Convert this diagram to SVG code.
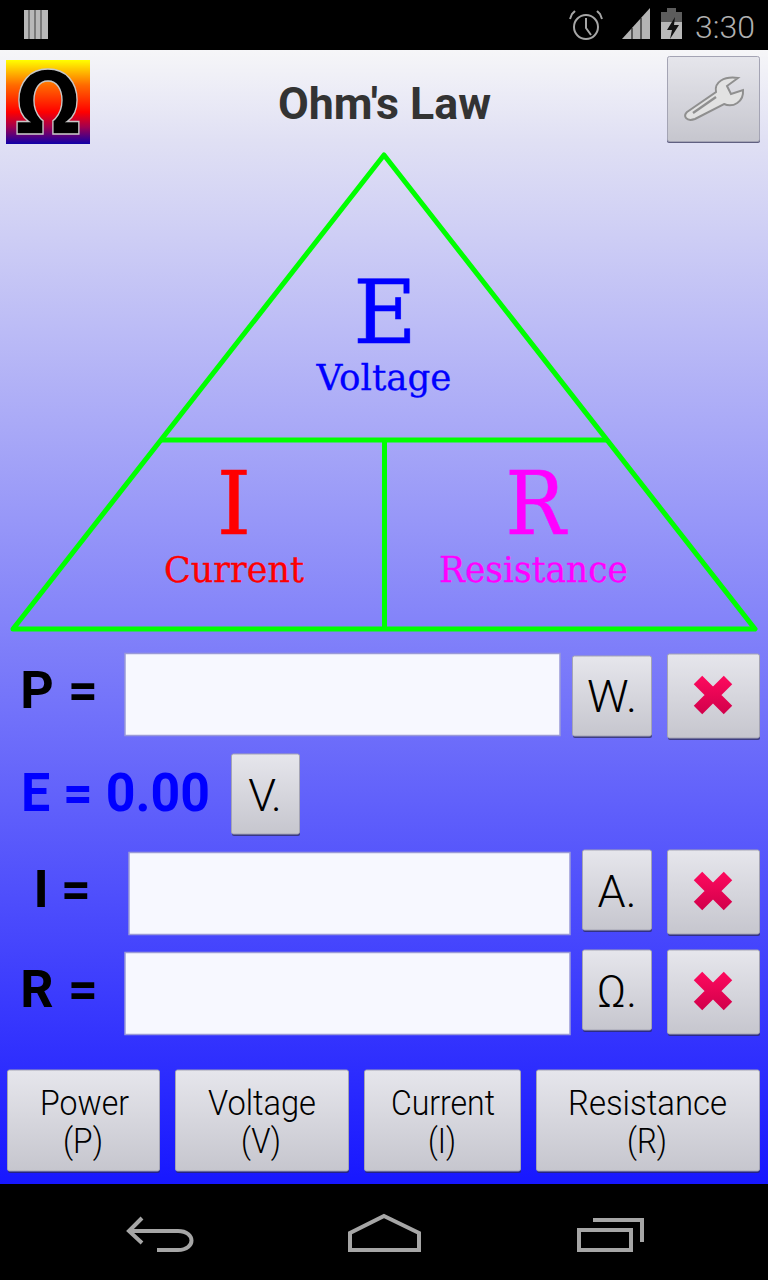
<svg xmlns="http://www.w3.org/2000/svg" width="768" height="1280" viewBox="0 0 768 1280">
<style>
.btn{fill:url(#bg);stroke:#a4a4b4;stroke-width:1}
.sh{fill:#2a2a50;opacity:.7}
.inp{fill:#f7f8ff;stroke:#9a9ad8;stroke-width:1.500}
.t{font-family:Roboto,"Liberation Sans",sans-serif;fill:#000;text-anchor:middle}
.b{font-size:35px;font-weight:300}
.k{font-size:45px;font-weight:300}
.l{font-size:52px;font-weight:700}
.s{font-family:"DejaVu Serif","Liberation Serif",serif;text-anchor:middle}
.big{font-size:87px}
.sm{font-size:35px}
.g{fill:none;stroke:#00ff00;stroke-width:5;stroke-linejoin:round}
.ic{fill:none;stroke:#a6a6a6;stroke-width:4}
.x{stroke:url(#xg);stroke-width:12;fill:none}
</style>
<defs>
<linearGradient id="page" x1="0" y1="0" x2="0" y2="1"><stop offset="0" stop-color="#f6f6f8"/><stop offset=".08" stop-color="#e0e0f4"/><stop offset="1" stop-color="#1717ff"/></linearGradient>
<linearGradient id="bg" x1="0" y1="0" x2="0" y2="1"><stop offset="0" stop-color="#e6e6ec"/><stop offset="1" stop-color="#c6c6ce"/></linearGradient>
<linearGradient id="xg" gradientUnits="userSpaceOnUse" x1="0" y1="-20" x2="0" y2="20"><stop offset="0" stop-color="#ff0a5e"/><stop offset="1" stop-color="#d0004a"/></linearGradient>
<linearGradient id="logo" x1="0" y1="0" x2="0" y2="1"><stop offset="0" stop-color="#ffff00"/><stop offset=".3" stop-color="#ff6a00"/><stop offset=".62" stop-color="#ff0000"/><stop offset=".8" stop-color="#a00050"/><stop offset="1" stop-color="#1000a8"/></linearGradient>
<g id="xm"><path class="x" d="M-15 -15L15 15M15 -15L-15 15"/></g>
</defs>
<rect width="768" height="50" fill="#000"/>
<rect y="50" width="768" height="1134" fill="url(#page)"/>
<rect y="1184" width="768" height="96" fill="#000"/>

<g id="status-bar">
<path d="M24 10h24v29h-24z" fill="#b8b8b8"/><path d="M29 10v29M35 10v29M41 10v29" stroke="#666" stroke-width="1.500"/>
<ellipse cx="586" cy="27" rx="12" ry="12" fill="none" stroke="#a6a6a6" stroke-width="2"/>
<path d="M586 18v10l5 7M575 11l-3 3-2 5M597 11l3 3 2 5" fill="none" stroke="#a6a6a6" stroke-width="2"/>
<path d="M622 39L650 8V39Z" fill="#b4b4b4"/><path d="M632 28v11M641 18v21" stroke="#000" stroke-width="1"/>
<path d="M661 12h6v-4h9v4h6v27h-21z" fill="#5c5c5c"/><path d="M661 22h21v17h-21z" fill="#b8b8b8"/><path d="M675 17l-8 13h5l-2 9 9-14h-5z" fill="#111"/>
<text x="725" y="38" font-family="Roboto,'Liberation Sans',sans-serif" font-size="32" font-weight="300" fill="#b0b0b0" text-anchor="middle">3:30</text>
</g>

<g id="logo-omega">
<rect x="6" y="60" width="84" height="84" fill="url(#logo)"/>
<text x="48" y="134" font-family="'DejaVu Sans','Liberation Sans',sans-serif" font-size="88" font-weight="700" fill="#000" stroke="#c8c8c8" stroke-width="1.500" text-anchor="middle" textLength="66" lengthAdjust="spacingAndGlyphs">Ω</text>
</g>
<text id="title" x="384.500" y="119" class="t" font-size="45" font-weight="700" style="fill:#333" textLength="213" lengthAdjust="spacingAndGlyphs">Ohm's Law</text>
<g id="settings">
<rect x="667" y="58" width="93" height="85" rx="2" class="sh"/><rect x="667.500" y="56.500" width="92" height="85" rx="2" class="btn"/>
<path d="M687 112L716 92C714 82 724 76 738 78L727 86 731 94 743 90C744 102 733 108 724 104L695 119C686 122 683 116 687 112Z" fill="#e2e2e2" stroke="#8f8f8f" stroke-width="2"/>
<path d="M693 113L716 97" stroke="#8f8f8f" stroke-width="2.500" fill="none"/>
</g>

<g id="connectors">
<path class="g" d="M384 155L755 629H13Z"/>
<path class="g" d="M160 440H608M384.500 440V629"/>
</g>

<g id="node-e"><text x="385" y="343" class="s big" fill="#0000ff" stroke="#0000ff" stroke-width=".6">E</text><text x="384" y="390" class="s sm" fill="#0000ff" textLength="135" lengthAdjust="spacingAndGlyphs" stroke="#0000ff" stroke-width=".3">Voltage</text></g>
<g id="node-i"><text x="234" y="534" class="s big" fill="#ff0000" stroke="#ff0000" stroke-width=".6">I</text><text x="234" y="582" class="s sm" fill="#ff0000" textLength="140" lengthAdjust="spacingAndGlyphs" stroke="#ff0000" stroke-width=".3">Current</text></g>
<g id="node-r"><text x="535.500" y="534" class="s big" fill="#ff00ff" stroke="#ff00ff" stroke-width=".6" textLength="60" lengthAdjust="spacingAndGlyphs">R</text><text x="533.500" y="582" class="s sm" fill="#ff00ff" textLength="189" lengthAdjust="spacingAndGlyphs" stroke="#ff00ff" stroke-width=".3">Resistance</text></g>

<g id="row-p">
<text x="37" y="708" class="t l">P</text><text x="83" y="708" class="t l">=</text>
<rect x="125" y="653.500" width="435" height="82" class="inp"/>
<rect x="573" y="658" width="79" height="80" rx="2" class="sh"/><rect x="572.500" y="656" width="79" height="80" rx="2" class="btn"/><text x="612" y="712" class="t k" textLength="50" lengthAdjust="spacingAndGlyphs">W.</text>
<rect x="668" y="656" width="92" height="84" rx="2" class="sh"/><rect x="667.500" y="654" width="92" height="84" rx="2" class="btn"/><use href="#xm" x="713" y="695"/>
</g>
<g id="row-e">
<text x="115.500" y="811" class="t l" style="fill:#0000ff;font-size:53px" textLength="189" lengthAdjust="spacingAndGlyphs">E = 0.00</text>
<rect x="232" y="756" width="68" height="80" rx="2" class="sh"/><rect x="231.500" y="754" width="68" height="80" rx="2" class="btn"/><text x="265" y="811" class="t k">V.</text>
</g>
<g id="row-i">
<text x="41" y="907" class="t l">I</text><text x="76" y="907" class="t l">=</text>
<rect x="129" y="852.500" width="441" height="82" class="inp"/>
<rect x="583" y="852" width="69" height="80" rx="2" class="sh"/><rect x="582.500" y="850" width="69" height="80" rx="2" class="btn"/><text x="617" y="907" class="t k">A.</text>
<rect x="668" y="852" width="92" height="84" rx="2" class="sh"/><rect x="667.500" y="850" width="92" height="84" rx="2" class="btn"/><use href="#xm" x="713" y="891"/>
</g>
<g id="row-r">
<text x="37" y="1007" class="t l">R</text><text x="83" y="1007" class="t l">=</text>
<rect x="125" y="952.500" width="445" height="82" class="inp"/>
<rect x="583" y="952" width="69" height="80" rx="2" class="sh"/><rect x="582.500" y="950" width="69" height="80" rx="2" class="btn"/><text x="617" y="1007" class="t k">Ω.</text>
<rect x="668" y="952" width="92" height="84" rx="2" class="sh"/><rect x="667.500" y="950" width="92" height="84" rx="2" class="btn"/><use href="#xm" x="713" y="991"/>
</g>

<g id="btn-power"><rect x="8" y="1072" width="152" height="101" rx="2" class="sh"/><rect x="7.500" y="1070" width="152" height="101" rx="2" class="btn"/><text x="84.500" y="1115" class="t b" textLength="89" lengthAdjust="spacingAndGlyphs">Power</text><text x="83" y="1153" class="t b" textLength="40" lengthAdjust="spacingAndGlyphs">(P)</text></g>
<g id="btn-voltage"><rect x="176" y="1072" width="173" height="101" rx="2" class="sh"/><rect x="175.500" y="1070" width="173" height="101" rx="2" class="btn"/><text x="262" y="1115" class="t b" textLength="108" lengthAdjust="spacingAndGlyphs">Voltage</text><text x="261" y="1153" class="t b" textLength="40" lengthAdjust="spacingAndGlyphs">(V)</text></g>
<g id="btn-current"><rect x="365" y="1072" width="156" height="101" rx="2" class="sh"/><rect x="364.500" y="1070" width="156" height="101" rx="2" class="btn"/><text x="443" y="1115" class="t b" textLength="104" lengthAdjust="spacingAndGlyphs">Current</text><text x="442" y="1153" class="t b" textLength="28" lengthAdjust="spacingAndGlyphs">(I)</text></g>
<g id="btn-resistance"><rect x="537" y="1072" width="223" height="101" rx="2" class="sh"/><rect x="536.500" y="1070" width="223" height="101" rx="2" class="btn"/><text x="647.500" y="1115" class="t b" textLength="159" lengthAdjust="spacingAndGlyphs">Resistance</text><text x="647" y="1153" class="t b" textLength="40" lengthAdjust="spacingAndGlyphs">(R)</text></g>

<g id="nav-bar">
<path class="ic" d="M142 1218L129 1231L142 1243M129 1231H178C196 1231 196 1250 178 1250H157"/>
<path class="ic" d="M384 1216L419 1233V1250H350V1233Z"/>
<path class="ic" d="M579 1230H631V1250H579Z"/>
<path class="ic" d="M593 1220H642V1242"/>
</g>
</svg>
